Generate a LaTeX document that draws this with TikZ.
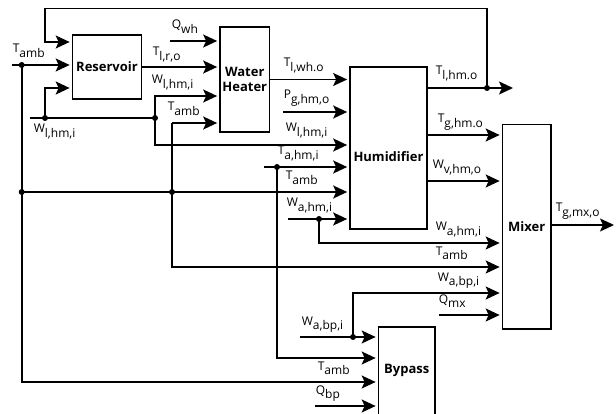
\documentclass[tikz,border=0pt]{standalone}
\usepackage{fontspec}
\setmainfont{Open Sans}
\usetikzlibrary{arrows.meta,calc}
\newcommand{\vsub}[2]{#1\raisebox{-4.5pt}{\fontsize{12}{12}\selectfont #2}}
\begin{document}
\begin{tikzpicture}[x=1pt,y=-1pt,line width=1.7pt,
  box/.style={draw,line width=1.7pt,inner sep=0pt,align=center,font=\fontsize{13}{15.5}\selectfont\bfseries},
  btxt/.style={inner sep=0pt,font=\fontsize{13}{15.5}\selectfont\bfseries},
  arr/.style={-{Stealth[length=14pt,width=13pt,inset=3pt]},shorten >=2pt},
  arrfree/.style={-{Stealth[length=14pt,width=13pt,inset=3pt]}},
  lbl/.style={anchor=base west,inner sep=0pt,font=\fontsize{12}{12}\selectfont}]
\useasboundingbox (0,0) rectangle (616,414);
% boxes
\node[box,minimum width=69pt,minimum height=64pt] (res) at (107,67) {Reservoir};
\node[box,minimum width=49.5pt,minimum height=105pt] (wh) at (244.75,79.5) {Water\\Heater};
\node[box,minimum width=77pt,minimum height=162pt] (hum) at (388.5,148) {};
\node[btxt] (humt) at (388.5,157) {Humidifier};
\node[box,minimum width=48.5pt,minimum height=204.5pt] (mix) at (526.75,226.75) {Mixer};
\node[box,minimum width=56.5pt,minimum height=95pt] (byp) at (406.75,374.5) {};
\node[btxt] (bypt) at (406.75,370) {Bypass};
% coordinates
\coordinate (tambL) at (12,65);
\coordinate (d1) at (21.7,65);
\coordinate (d2) at (21.7,192);
\coordinate (cL) at (21.7,382);
\coordinate (fbA) at (487,88);
\coordinate (fbB) at (487,8.5);
\coordinate (fbC) at (45,8.5);
\coordinate (fbD) at (45,42);
\coordinate (wlS) at (30,118);
\coordinate (d3) at (45,118);
\coordinate (r3) at (45,88);
\coordinate (d4) at (155,118);
\coordinate (w1) at (155,96);
\coordinate (w2) at (155,145);
\coordinate (qwh) at (170,41);
\coordinate (ta) at (172,123);
\coordinate (d5) at (172,192);
\coordinate (tm) at (172,267);
\coordinate (pg) at (283,112);
\coordinate (tahS) at (264,167);
\coordinate (d6) at (277,167);
\coordinate (tb) at (277,358);
\coordinate (wahS) at (288,219);
\coordinate (d7) at (319,219);
\coordinate (wm) at (319,243);
\coordinate (outT) at (513,88);
\coordinate (ytg) at (0,135);
\coordinate (ywv) at (0,181);
\coordinate (outM) at (614,225);
\coordinate (wabS) at (300,337);
\coordinate (d8) at (353,337);
\coordinate (wbm) at (353,293);
\coordinate (qmx) at (439,315);
\coordinate (qbp) at (315,406);
% connectors
\draw[arr] (fbA) -- (fbB) -- (fbC) -- (fbD) -- (res.west |- fbD);
\draw[arr] (tambL) -- (res.west |- tambL);
\draw[arr] (d1) -- (cL) -- (byp.west |- cL);
\draw[arr] (d2) -- (hum.west |- d2);
\draw[arr] (d3) -- (r3) -- (res.west |- r3);
\draw (wlS) -- (d4);
\draw[arr] (d4) -- (w1) -- (wh.west |- w1);
\draw[arr] (d4) -- (w2) -- (hum.west |- w2);
\draw[arr] (qwh) -- (wh.west |- qwh);
\draw[arr] (res.east) -- (wh.west |- res.east);
\draw[arr] (ta) -- (wh.west |- ta);
\draw[arr] (ta) -- (tm) -- (mix.west |- tm);
\draw[arr] (wh.east) -- (hum.west |- wh.east);
\draw[arr] (pg) -- (hum.west |- pg);
\draw[arr] (tahS) -- (hum.west |- tahS);
\draw[arr] (d6) -- (tb) -- (byp.west |- tb);
\draw[arr] (wahS) -- (hum.west |- wahS);
\draw[arr] (d7) -- (wm) -- (mix.west |- wm);
\draw[arrfree] (hum.east |- outT) -- (outT);
\draw[arr] (hum.east |- ytg) -- (mix.west |- ytg);
\draw[arr] (hum.east |- ywv) -- (mix.west |- ywv);
\draw[arrfree] (mix.east |- outM) -- (outM);
\draw[arr] (wabS) -- (byp.west |- wabS);
\draw[arr] (d8) -- (wbm) -- (mix.west |- wbm);
\draw[arr] (qmx) -- (mix.west |- qmx);
\draw[arr] (qbp) -- (byp.west |- qbp);
% junction dots
\foreach \p in {d1,d2,d3,d4,d5,d6,d7,d8,fbA} \fill (\p) circle (3pt);
% labels
\node[lbl] (l1) at (12,53) {\vsub{T}{amb}};
\node[lbl] (l2) at (33,133) {\vsub{W}{l,hm,i}};
\node[lbl] (l3) at (171,29) {\vsub{Q}{wh}};
\node[lbl] (l4) at (152,56) {\vsub{T}{l,r,o}};
\node[lbl] (l5) at (151,84) {\vsub{W}{l,hm,i}};
\node[lbl] (l6) at (167,111) {\vsub{T}{amb}};
\node[lbl] (l7) at (283,67) {\vsub{T}{l,wh.o}};
\node[lbl] (l8) at (283,99) {\vsub{P}{g,hm,o}};
\node[lbl] (l9) at (285,132) {\vsub{W}{l,hm,i}};
\node[lbl] (l10) at (277,155) {\vsub{T}{a,hm,i}};
\node[lbl] (l11) at (285,180) {\vsub{T}{amb}};
\node[lbl] (l12) at (286,207) {\vsub{W}{a,hm,i}};
\node[lbl] (l13) at (435,75) {\vsub{T}{l,hm.o}};
\node[lbl] (l14) at (437,123) {\vsub{T}{g,hm.o}};
\node[lbl] (l15) at (432,169) {\vsub{W}{v,hm,o}};
\node[lbl] (l16) at (435,231) {\vsub{W}{a,hm,i}};
\node[lbl] (l17) at (435,255) {\vsub{T}{amb}};
\node[lbl] (l18) at (437,281) {\vsub{W}{a,bp,i}};
\node[lbl] (l19) at (438,303) {\vsub{Q}{mx}};
\node[lbl] (l20) at (301,325) {\vsub{W}{a,bp,i}};
\node[lbl] (l21) at (317,370) {\vsub{T}{amb}};
\node[lbl] (l22) at (315,394) {\vsub{Q}{bp}};
\node[lbl] (l23) at (555,212) {\vsub{T}{g,mx,o}};
\end{tikzpicture}
\end{document}
